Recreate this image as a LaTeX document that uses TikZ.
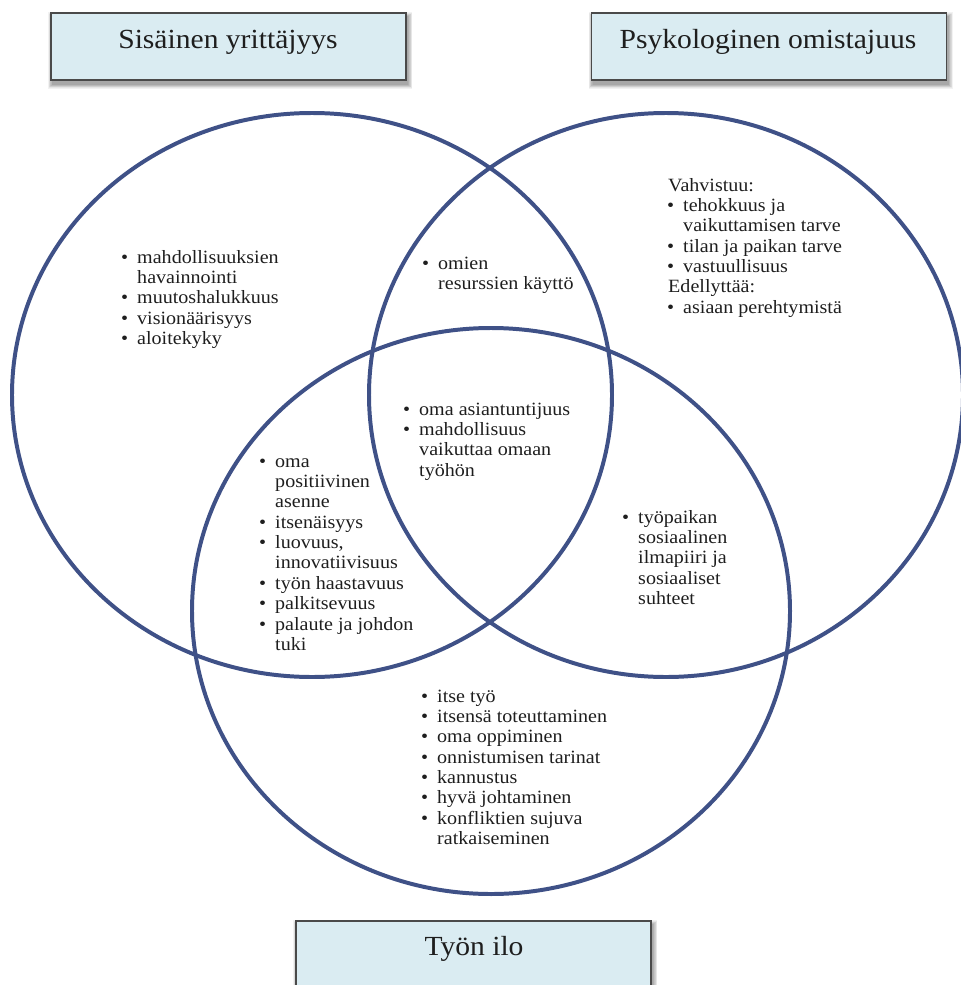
\documentclass[tikz,border=0pt]{standalone}
\usepackage{fontspec}
\setmainfont{Liberation Serif}[FakeStretch=1.07]
\usetikzlibrary{backgrounds}

\definecolor{ringblue}{HTML}{3F5187}
\definecolor{boxfill}{HTML}{DAECF2}
\definecolor{boxline}{HTML}{4A4A4A}
\definecolor{inkgray}{HTML}{1E1E1E}

% bullet hanging to the left of the item text
\newcommand{\bitem}{\llap{\makebox[0pt]{\textbullet}\hspace{10.7pt}}}

% soft shadow under a box node: stacked translucent rectangles
\newcommand{\softshadow}[1]{%
  \foreach \k in {0,...,7}{%
    \fill[black, opacity=0.05]
      ([shift={(1.4pt-\k*0.5pt,-3.4pt-\k*0.5pt)}]#1.south west)
      rectangle ([shift={(1.4pt+\k*0.5pt,-3.4pt+\k*0.5pt)}]#1.north east);
  }}

\tikzset{
  ring/.style={draw=ringblue, line width=3.4pt},
  titlebox/.style={draw=boxline, line width=0.9pt, fill=boxfill,
    minimum width=10.65cm, inner sep=0pt},
  titletext/.style={anchor=base, inner sep=0pt, text=inkgray,
    font=\fontsize{23.6}{28}\selectfont},
  itemlist/.style={anchor=base west, inner sep=0pt, text=inkgray,
    font=\fontsize{16}{17.4}\selectfont}
}

\begin{document}
\begin{tikzpicture}[x=0.03cm, y=-0.03cm]
\useasboundingbox (0,0) rectangle (961,985);

% title boxes
\node[titlebox, minimum height=2.01cm] (boxA) at (228.5,46.5) {};
\node[titlebox, minimum height=2.01cm] (boxB) at (769,46.5) {};
\node[titlebox, minimum height=2.4cm] (boxC) at (473.5,961) {};
\begin{scope}[on background layer]
  \softshadow{boxA}
  \softshadow{boxB}
  \softshadow{boxC}
\end{scope}
\node[titletext] (titleA) at (228,49) {Sisäinen yrittäjyys};
\node[titletext] (titleB) at (768,49) {Psykologinen omistajuus};
\node[titletext] (titleC) at (474,955) {Työn ilo};

% the three rings
\draw[ring] (312,395) ellipse [x radius=300, y radius=282];
\draw[ring] (666,395) ellipse [x radius=297, y radius=282];
\draw[ring] (491,611) ellipse [x radius=299, y radius=283];

% left ring only
\node[itemlist] (listA) at (137,263) {\begin{tabular}[t]{@{}l@{}}
\bitem mahdollisuuksien\\
havainnointi\\
\bitem muutoshalukkuus\\
\bitem visionäärisyys\\
\bitem aloitekyky
\end{tabular}};

% left and right rings
\node[itemlist] (listAB) at (438,269) {\begin{tabular}[t]{@{}l@{}}
\bitem omien\\
resurssien käyttö
\end{tabular}};

% right ring only
\node[itemlist] (listB) at (668,191) {\begin{tabular}[t]{@{}l@{}}
Vahvistuu:\\
\hspace{12.8pt}\bitem tehokkuus ja\\
\hspace{12.8pt}vaikuttamisen tarve\\
\hspace{12.8pt}\bitem tilan ja paikan tarve\\
\hspace{12.8pt}\bitem vastuullisuus\\
Edellyttää:\\
\hspace{12.8pt}\bitem asiaan perehtymistä
\end{tabular}};

% all three rings
\node[itemlist] (listABC) at (419,415) {\begin{tabular}[t]{@{}l@{}}
\bitem oma asiantuntijuus\\
\bitem mahdollisuus\\
vaikuttaa omaan\\
työhön
\end{tabular}};

% left and bottom rings
\node[itemlist] (listAC) at (275,467) {\begin{tabular}[t]{@{}l@{}}
\bitem oma\\
positiivinen\\
asenne\\
\bitem itsenäisyys\\
\bitem luovuus,\\
innovatiivisuus\\
\bitem työn haastavuus\\
\bitem palkitsevuus\\
\bitem palaute ja johdon\\
tuki
\end{tabular}};

% right and bottom rings
\node[itemlist] (listBC) at (638,523) {\begin{tabular}[t]{@{}l@{}}
\bitem työpaikan\\
sosiaalinen\\
ilmapiiri ja\\
sosiaaliset\\
suhteet
\end{tabular}};

% bottom ring only
\node[itemlist] (listC) at (437,702) {\begin{tabular}[t]{@{}l@{}}
\bitem itse työ\\
\bitem itsensä toteuttaminen\\
\bitem oma oppiminen\\
\bitem onnistumisen tarinat\\
\bitem kannustus\\
\bitem hyvä johtaminen\\
\bitem konfliktien sujuva\\
ratkaiseminen
\end{tabular}};
\end{tikzpicture}
\end{document}
